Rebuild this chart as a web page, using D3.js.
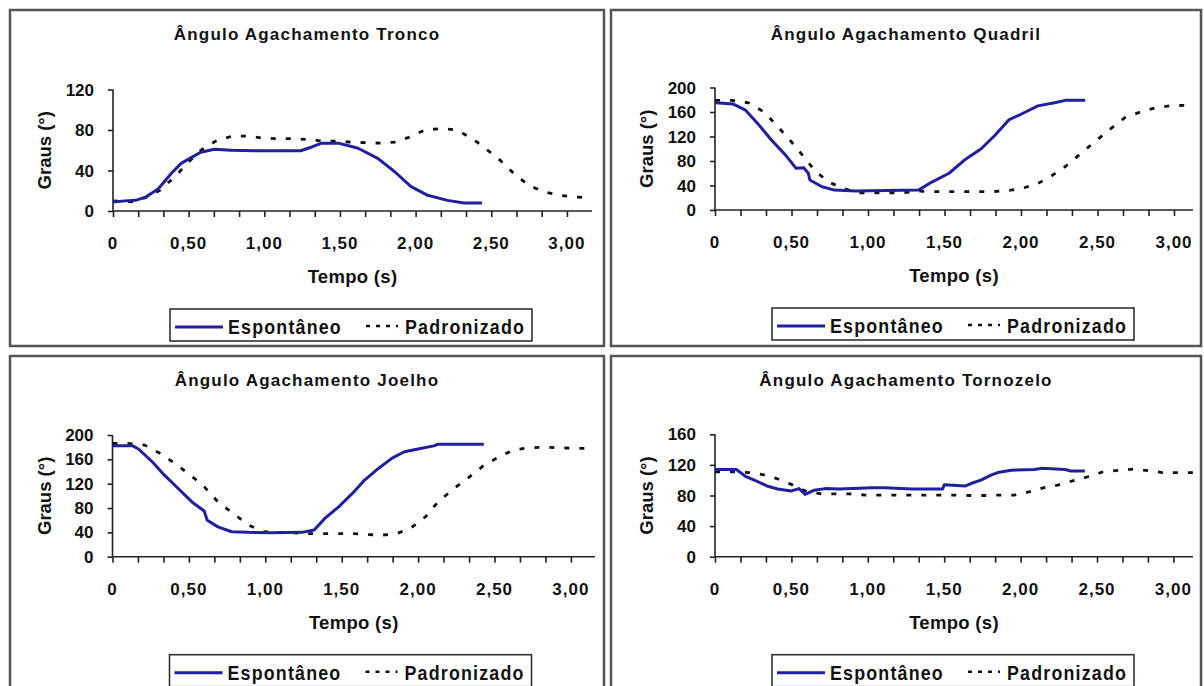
<!DOCTYPE html>
<html>
<head>
<meta charset="utf-8">
<script src="https://cdnjs.cloudflare.com/ajax/libs/d3/7.8.5/d3.min.js"></script>
<style>
body{margin:0;background:#fff;}
svg{display:block;font-family:"Liberation Sans",Arial,sans-serif;font-weight:bold;}
</style>
</head>
<body>
<svg id="chart" width="1204" height="686"></svg>
<script>
let titles = ["Ângulo Agachamento Tronco","Ângulo Agachamento Quadril","Ângulo Agachamento Joelho","Ângulo Agachamento Tornozelo"];
let seriesNames = ["Espontâneo","Padronizado"];
let xTickValues = [0,0.5,1,1.5,2,2.5,3];
let xTickLabels = ["0","0,50","1,00","1,50","2,00","2,50","3,00"];
let xTitle = "Tempo (s)";
let yTitle = "Graus (°)";

let yTicksTronco = [0,40,80,120];
let yTicksQuadril = [0,40,80,120,160,200];
let yTicksJoelho = [0,40,80,120,160,200];
let yTicksTornozelo = [0,40,80,120,160];

// [tempo (s), graus]
let troncoEsp = [[0,9],[0.08,10],[0.15,10.5],[0.22,14],[0.3,22],[0.385,37],[0.45,47],[0.52,53],[0.58,58],[0.67,61],[0.78,60],[0.94,59.5],[1.24,59.5],[1.31,63],[1.38,67],[1.49,67],[1.62,62],[1.75,52],[1.86,39],[1.97,24],[2.08,15.5],[2.21,10.5],[2.32,8],[2.44,8]];
let troncoPad = [[0,10],[0.12,9],[0.21,13],[0.31,20.5],[0.41,34],[0.5,48.5],[0.59,61],[0.69,70],[0.79,74],[0.89,74],[0.99,72],[1.09,71.5],[1.19,71.5],[1.29,70.5],[1.39,69],[1.49,69],[1.57,68],[1.67,67.5],[1.77,67],[1.86,68],[1.96,73],[2.06,80],[2.17,81.5],[2.27,80],[2.37,72],[2.46,62],[2.56,50],[2.65,37],[2.75,25],[2.85,19],[2.95,15.5],[3.05,14],[3.15,13]];

let quadrilEsp = [[0,175],[0.12,173],[0.2,163],[0.28,141],[0.37,114],[0.46,90],[0.53,68],[0.58,69],[0.61,60],[0.62,49],[0.7,38],[0.78,32.5],[0.92,31],[1.33,32.5],[1.42,46],[1.53,60],[1.63,81.5],[1.74,100],[1.83,122],[1.92,147],[2.03,160],[2.11,170],[2.22,175],[2.29,179],[2.42,179]];
let quadrilPad = [[0,179],[0.11,179],[0.22,175],[0.32,160],[0.4,139],[0.49,114],[0.57,90],[0.65,65],[0.74,46],[0.84,35],[0.94,28],[1.03,28],[1.13,28],[1.23,28],[1.32,31],[1.42,30],[1.51,30],[1.61,30],[1.71,30],[1.81,30],[1.91,31.5],[2.0,35],[2.1,42],[2.19,54],[2.29,71],[2.39,92],[2.48,111],[2.58,131.5],[2.68,151],[2.78,160],[2.88,167],[2.97,170],[3.08,171],[3.12,171]];

let joelhoEsp = [[0,182.5],[0.13,182.5],[0.17,177],[0.26,156],[0.34,134],[0.43,112],[0.52,90],[0.6,75],[0.62,60],[0.69,49],[0.78,41],[0.89,40],[1.04,39.5],[1.24,40],[1.32,44],[1.39,63],[1.48,82],[1.57,104],[1.65,126],[1.74,145],[1.83,162],[1.91,172.5],[2.0,177],[2.11,182.5],[2.13,185],[2.43,185]];
let joelhoPad = [[0,186],[0.1,186],[0.21,183.5],[0.31,170],[0.41,153],[0.51,134],[0.6,115],[0.69,90],[0.79,71],[0.89,52],[0.99,41],[1.09,40],[1.17,39.5],[1.27,38],[1.37,38],[1.47,38],[1.57,38],[1.66,36.5],[1.76,35.5],[1.85,37],[1.95,46.5],[2.05,66],[2.13,90],[2.23,111],[2.33,130],[2.43,150],[2.53,164],[2.62,175],[2.72,179],[2.82,180],[2.92,179],[3.03,178],[3.14,178]];

let tornozeloEsp = [[0,114],[0.14,114],[0.2,105],[0.28,98],[0.34,92.5],[0.41,88.5],[0.5,86],[0.55,89],[0.59,81.5],[0.65,87],[0.72,89],[0.81,88.5],[1.03,90],[1.11,90],[1.29,88.5],[1.49,88.5],[1.5,94],[1.64,92.5],[1.68,96],[1.74,100],[1.81,107],[1.85,110],[1.94,113],[2.09,114],[2.14,115.5],[2.29,114],[2.33,112],[2.42,112]];
let tornozeloPad = [[0,111],[0.11,111],[0.22,110],[0.32,107],[0.4,102.5],[0.5,94.5],[0.6,85],[0.7,82],[0.8,82],[0.89,82],[0.99,80.5],[1.09,80.5],[1.19,80.5],[1.29,80.5],[1.38,80.5],[1.48,80.5],[1.57,80.5],[1.67,80],[1.77,80],[1.86,80.5],[1.96,80.5],[2.06,85],[2.16,90.5],[2.25,94],[2.34,99],[2.44,104.5],[2.54,111],[2.64,113],[2.74,114.5],[2.84,112.5],[2.93,110],[3.03,110],[3.13,110]];

let blue = "#1f1fa0";

// frame + plot area in pixels for each panel
let panels = [
  {title:titles[0], esp:troncoEsp, pad:troncoPad, yTicks:yTicksTronco, fx:10, fy:10, fw:594, fh:336, x0:113, pps:151.3, x1:592, yb:211, yt:89.5},
  {title:titles[1], esp:quadrilEsp, pad:quadrilPad, yTicks:yTicksQuadril, fx:611, fy:10, fw:590, fh:336, x0:715, pps:153, x1:1193, yb:210, yt:87.5},
  {title:titles[2], esp:joelhoEsp, pad:joelhoPad, yTicks:yTicksJoelho, fx:10, fy:356, fw:594, fh:340, x0:112.5, pps:152.8, x1:595, yb:556.7, yt:435},
  {title:titles[3], esp:tornozeloEsp, pad:tornozeloPad, yTicks:yTicksTornozelo, fx:611, fy:356, fw:590, fh:340, x0:715, pps:152.8, x1:1193, yb:556.7, yt:434.3}
];

let svg = d3.select("#chart");

function drawPanel(p){
  let g = svg.append("g");

  g.append("rect").attr("x",p.fx).attr("y",p.fy).attr("width",p.fw).attr("height",p.fh)
   .style("fill","#fff").style("stroke","#555").style("stroke-width",2.5);

  g.append("text").attr("x",p.fx+p.fw/2).attr("y",p.fy+30).attr("text-anchor","middle")
   .style("font-size","17px").style("letter-spacing","1.2px").style("fill","#111").text(p.title);

  let xMax = (p.x1-p.x0)/p.pps;
  let x = d3.scaleLinear().domain([0,xMax]).range([p.x0,p.x1]);
  let yMax = d3.max(p.yTicks);
  let y = d3.scaleLinear().domain([0,yMax]).range([p.yb,p.yt]);

  // x axis: minor ticks every 1/6 s, labels every 0.5 s
  let xAxis = d3.axisBottom(x).tickValues(d3.range(0,xMax+1e-6,1/6)).tickSize(6).tickFormat("");
  let gx = g.append("g").attr("transform","translate(0,"+p.yb+")").call(xAxis);
  gx.select(".domain").attr("d","M"+p.x0+",0H"+p.x1);
  gx.selectAll("path,line").style("stroke","#222").style("stroke-width",1.6);

  g.selectAll(".xl").data(xTickValues).enter().append("text")
   .attr("x",d=>x(d)).attr("y",p.yb+38).attr("text-anchor","middle")
   .style("font-size","17px").style("letter-spacing","1px").style("fill","#111")
   .text((d,i)=>xTickLabels[i]);

  let yAxis = d3.axisLeft(y).tickValues(p.yTicks).tickSize(5).tickFormat("");
  let gy = g.append("g").attr("transform","translate("+p.x0+",0)").call(yAxis);
  gy.select(".domain").attr("d","M0,"+p.yb+"V"+p.yt);
  gy.selectAll("path,line").style("stroke","#222").style("stroke-width",1.6);

  g.selectAll(".yl").data(p.yTicks).enter().append("text")
   .attr("x",p.x0-19).attr("y",d=>y(d)+6).attr("text-anchor","end")
   .style("font-size","17px").style("fill","#111")
   .text(d=>d);

  g.append("text").attr("transform","translate("+(p.x0-62)+","+((p.yb+p.yt)/2)+") rotate(-90)")
   .attr("text-anchor","middle").style("font-size","18.5px").style("fill","#111")
   .text(yTitle);

  g.append("text").attr("x",(p.x0+p.x1)/2).attr("y",p.yb+72).attr("text-anchor","middle")
   .style("font-size","18.5px").style("letter-spacing","0.3px").style("fill","#111").text(xTitle);

  let line = d3.line().x(d=>x(d[0])).y(d=>y(d[1]));

  g.append("path").datum(p.pad).attr("d",line)
   .style("fill","none").style("stroke","#111").style("stroke-width",2.8).style("stroke-dasharray","5 10");

  g.append("path").datum(p.esp).attr("d",line)
   .style("fill","none").style("stroke",blue).style("stroke-width",3).style("stroke-linejoin","round");

  // legend
  let lx = p.x0+57, ly = p.yb+98;
  g.append("rect").attr("x",lx).attr("y",ly).attr("width",362).attr("height",32)
   .style("fill","#fff").style("stroke","#333").style("stroke-width",1.6);
  g.append("line").attr("x1",lx+5).attr("x2",lx+53).attr("y1",ly+18).attr("y2",ly+18)
   .style("stroke",blue).style("stroke-width",3);
  g.append("text").attr("transform","translate("+(lx+58)+","+(ly+25)+") scale(0.85,1)")
   .style("font-size","21px").style("letter-spacing","1.4px").style("fill","#111").text(seriesNames[0]);
  g.append("line").attr("x1",lx+196).attr("x2",lx+228).attr("y1",ly+17).attr("y2",ly+17)
   .style("stroke","#111").style("stroke-width",2.4).style("stroke-dasharray","4 6");
  g.append("text").attr("transform","translate("+(lx+235)+","+(ly+25)+") scale(0.85,1)")
   .style("font-size","21px").style("letter-spacing","1.4px").style("fill","#111").text(seriesNames[1]);
}

panels.forEach(drawPanel);
</script>
</body>
</html>
